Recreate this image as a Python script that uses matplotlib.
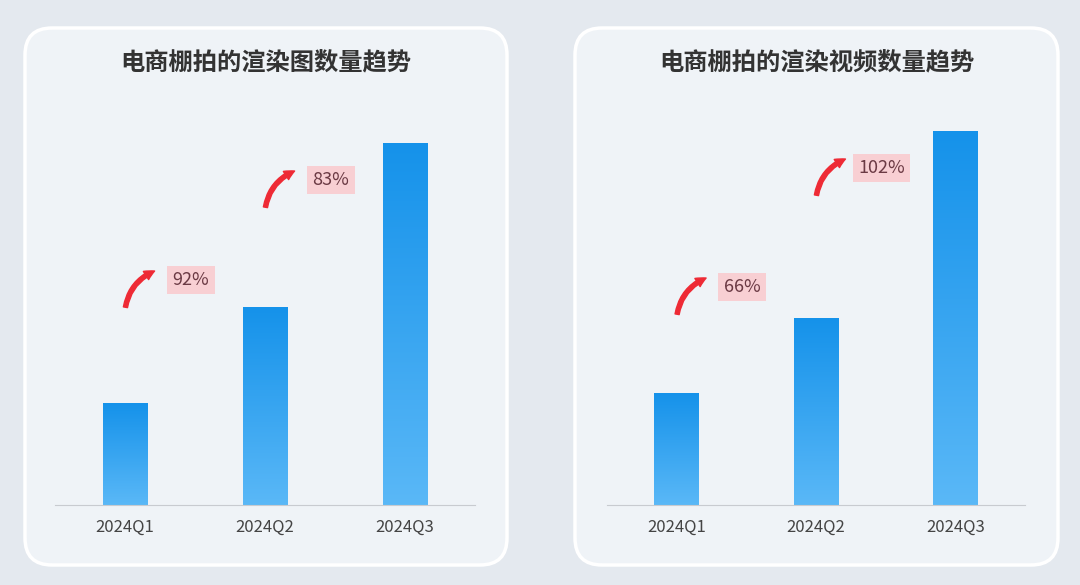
import matplotlib.pyplot as plt
import numpy as np
from matplotlib.colors import LinearSegmentedColormap
from matplotlib.patches import FancyBboxPatch, FancyArrowPatch

plt.rcParams["font.family"] = ["Noto Sans CJK SC", "DejaVu Sans"]

quarters = ["2024Q1", "2024Q2", "2024Q3"]
image_counts = [102, 197, 362]
image_growth = ["92%", "83%"]
video_counts = [112, 186, 374]
video_growth = ["66%", "102%"]
titles = ["电商棚拍的渲染图数量趋势", "电商棚拍的渲染视频数量趋势"]

W, H = 1080, 585
fig = plt.figure(figsize=(W / 100, H / 100), dpi=100)
fig.patch.set_facecolor("#e4e9ef")

cmap = LinearSegmentedColormap.from_list("bar", ["#5ab8f7", "#1592ea"])
grad = np.linspace(0, 1, 256).reshape(-1, 1)


def px(x, y):
    return x / W, 1 - y / H


def draw_panel(card_x0, card_x1, ax_x0, ax_x1, title, values, growth, label_y):
    x0, y0 = px(card_x0, 565)
    x1, y1 = px(card_x1, 28)
    card = FancyBboxPatch((x0, y0), x1 - x0, y1 - y0,
                          boxstyle="round,pad=0,rounding_size=0.025",
                          transform=fig.transFigure, facecolor="#eff3f7",
                          edgecolor="#ffffff", linewidth=2.5, mutation_aspect=W / H,
                          zorder=-5)
    fig.patches.append(card)
    fig.text((x0 + x1) / 2, 1 - 63 / H, title, ha="center", va="center",
             fontsize=17.5, fontweight="bold", color="#333333")

    ax = fig.add_axes([ax_x0 / W, 1 - 505 / H, (ax_x1 - ax_x0) / W, 405 / H])
    ax.set_facecolor("none")
    for i, v in enumerate(values):
        ax.imshow(grad, cmap=cmap, aspect="auto", origin="lower",
                  extent=(i - 0.16, i + 0.16, 0, v), zorder=2)
    ax.set_xlim(-0.5, 2.5)
    ax.set_ylim(0, 405)
    ax.set_xticks(range(len(quarters)))
    ax.set_xticklabels(quarters, fontsize=12, color="#444444")
    ax.tick_params(axis="x", length=0, pad=10)
    ax.set_yticks([])
    for s in ["top", "right", "left"]:
        ax.spines[s].set_visible(False)
    ax.spines["bottom"].set_color("#c8cbd0")

    for i, (g, ly) in enumerate(zip(growth, label_y)):
        cx = i + 0.47
        ax.text(cx, ly, g, ha="center", va="center", fontsize=13, color="#6b3a44",
                bbox=dict(boxstyle="square,pad=0.3", facecolor="#f8cfd3", edgecolor="none"),
                zorder=3)
        arrow = FancyArrowPatch((cx - 0.47, ly - 30), (cx - 0.24, ly + 10),
                                connectionstyle="arc3,rad=-0.3",
                                arrowstyle="simple,head_width=7,head_length=7,tail_width=3",
                                color="#ee2a35", zorder=3)
        ax.add_patch(arrow)


draw_panel(25, 507, 55, 475, titles[0], image_counts, image_growth, [225, 325])
draw_panel(575, 1058, 607, 1025, titles[1], video_counts, video_growth, [218, 337])

fig.savefig("out.png", dpi=100, facecolor=fig.get_facecolor())
